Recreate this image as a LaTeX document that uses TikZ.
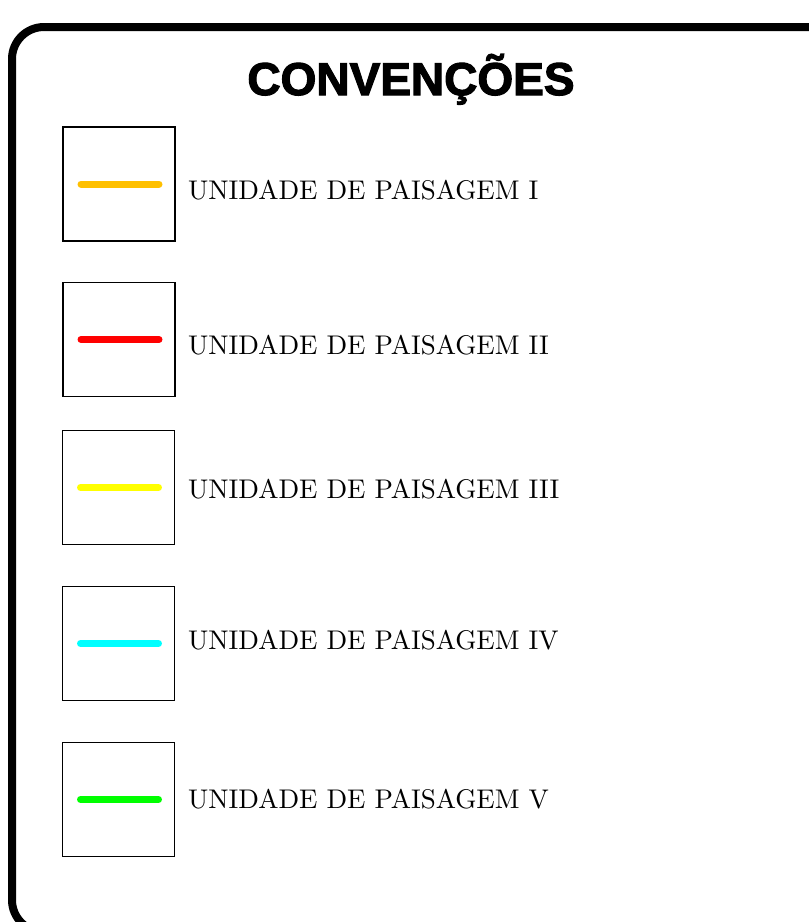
\documentclass[tikz,border=0pt]{standalone}
\usepackage{fontspec}
\newfontfamily\titlefont[FakeBold=2.5]{Liberation Sans Bold}
\newfontfamily\labelfont[Extension=.otf]{lmroman10-regular}
\begin{document}
\begin{tikzpicture}[x=1pt,y=1pt,
  keybox/.style={draw=black,line width=1.8pt,minimum width=112pt,minimum height=114pt,inner sep=0pt},
  keyline/.style={line width=7pt,line cap=round},
  label/.style={anchor=base west,inner sep=0pt,font=\labelfont\fontsize{27}{30}\selectfont},
]
\useasboundingbox (0,0) rectangle (809,-922);
\fill[white] (0,0) rectangle (809,-922);
\draw[line width=8pt,rounded corners=32pt] (12,-27) rectangle (850,-932);
\node[font=\titlefont\fontsize{46}{50}\selectfont,inner sep=0pt,anchor=base] (title) at (411,-95) {CONVENÇÕES};
\definecolor{cI}{HTML}{FFC000}
\definecolor{cII}{HTML}{FF0000}
\definecolor{cIII}{HTML}{FFFF00}
\definecolor{cIV}{HTML}{00FFFF}
\definecolor{cV}{HTML}{00FF00}
\node[keybox] (b1) at (119,-184) {};
\node[keybox] (b2) at (119,-339.5) {};
\node[keybox] (b3) at (118.5,-487.5) {};
\node[keybox] (b4) at (118.5,-643.5) {};
\node[keybox] (b5) at (118.5,-799.5) {};
\draw[keyline,cI]   ([xshift=-38pt]b1.center) -- ([xshift=40pt]b1.center);
\draw[keyline,cII]  ([xshift=-38pt]b2.center) -- ([xshift=40pt]b2.center);
\draw[keyline,cIII] ([xshift=-38pt]b3.center) -- ([xshift=40pt]b3.center);
\draw[keyline,cIV]  ([xshift=-38pt]b4.center) -- ([xshift=40pt]b4.center);
\draw[keyline,cV]   ([xshift=-38pt]b5.center) -- ([xshift=40pt]b5.center);
\node[label] (t1) at (188,-199) {UNIDADE DE PAISAGEM I};
\node[label] (t2) at (188,-354) {UNIDADE DE PAISAGEM II};
\node[label] (t3) at (188,-498) {UNIDADE DE PAISAGEM III};
\node[label] (t4) at (188,-649) {UNIDADE DE PAISAGEM IV};
\node[label] (t5) at (188,-808) {UNIDADE DE PAISAGEM V};
\end{tikzpicture}
\end{document}
